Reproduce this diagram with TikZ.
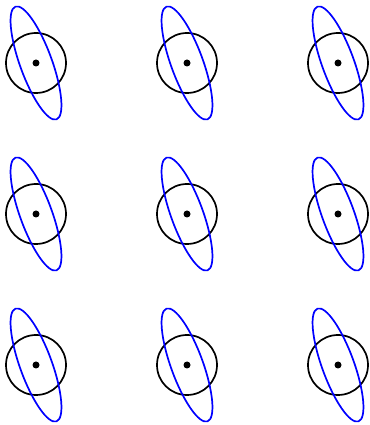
\documentclass[tikz,border=0pt]{standalone}
\begin{document}
\begin{tikzpicture}[x=1pt, y=1pt]
\tikzset{ring/.style={draw=black, line width=1.7pt},
  orbit/.style={draw=blue, line width=1.7pt}}
\useasboundingbox (0,0) rectangle (369,425);
% 3x3 grid: circle, centre dot, tilted ellipse
\foreach \cx in {36,187,338} {
  \foreach \cy in {362,211,60} {
    \draw[ring] (\cx,\cy) circle (30);
    \fill (\cx,\cy) circle (3.5);
    \draw[orbit, rotate around={20:(\cx,\cy)}] (\cx,\cy) ellipse (16 and 60);
  }
}
\end{tikzpicture}
\end{document}
